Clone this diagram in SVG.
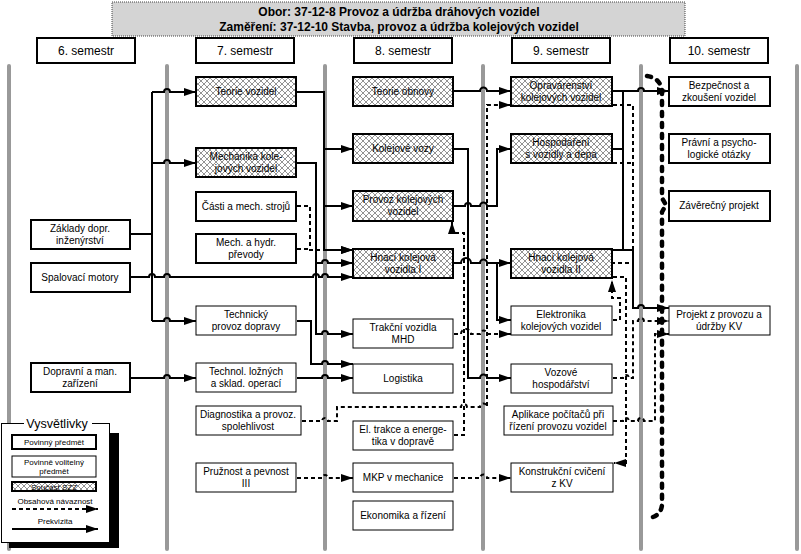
<svg xmlns="http://www.w3.org/2000/svg" width="801" height="554" viewBox="0 0 801 554">
<style>
text{font-family:"Liberation Sans",Arial,sans-serif;font-size:10px;text-anchor:middle;fill:#000}
.sem text{font-size:12px}
.hd{font-size:12px;font-weight:bold}
.gl{stroke:#999;stroke-width:4;stroke-linecap:round}
.n rect{fill:#fff;stroke:#000;stroke-width:2}
.v rect{fill:#fff;stroke:#000;stroke-width:1}
.h rect{fill:url(#hatch);stroke:#000;stroke-width:2}
.c{fill:none;stroke:#000;stroke-width:2}
.d{fill:none;stroke:#000;stroke-width:2;stroke-dasharray:4 3}
.a{marker-end:url(#arr)}
.b{fill:none;stroke:#000;stroke-width:4.5;stroke-dasharray:4 7;stroke-linecap:round}
</style>
<defs>
<pattern id="hatch" width="6" height="6" patternUnits="userSpaceOnUse">
<rect width="6" height="6" fill="#fff"/>
<path d="M0,0 L6,6 M6,0 L0,6" stroke="#777" stroke-width="0.8"/>
</pattern>
<marker id="arr" markerWidth="12" markerHeight="8" refX="12" refY="4" orient="auto" markerUnits="userSpaceOnUse">
<path d="M0,0 L12,4 L0,8 z" fill="#000"/>
</marker>
</defs>

<g id="header">
<rect x="112" y="2" width="573" height="34" fill="#d4d4d4" stroke="#444" stroke-width="1" stroke-dasharray="1 1"/>
<text class="hd" x="399" y="16">Obor:  37-12-8 Provoz a údržba dráhových vozidel</text>
<text class="hd" x="399" y="31">Zaměření: 37-12-10 Stavba, provoz a údržba kolejových vozidel</text>
</g>

<g id="semesters" class="n sem">
<rect x="37" y="38" width="98" height="25"/><text x="86" y="55">6. semestr</text>
<rect x="196" y="38" width="98" height="25"/><text x="245" y="55">7. semestr</text>
<rect x="354" y="38" width="98" height="25"/><text x="403" y="55">8. semestr</text>
<rect x="512" y="38" width="98" height="25"/><text x="561" y="55">9. semestr</text>
<rect x="670" y="38" width="98" height="25"/><text x="719" y="55">10. semestr</text>
</g>

<g id="gridlines">
<line class="gl" x1="9" y1="66" x2="9" y2="549"/>
<line class="gl" x1="167" y1="66" x2="167" y2="549"/>
<line class="gl" x1="325" y1="66" x2="325" y2="549"/>
<line class="gl" x1="483" y1="66" x2="483" y2="549"/>
<line class="gl" x1="641" y1="66" x2="641" y2="549"/>
<line class="gl" x1="797" y1="66" x2="797" y2="549"/>
</g>

<g id="connectors">
<path class="c" d="M131,234 H152 M152,92 V321"/>
<path class="c a" d="M152,92 H164 a3,3 0 0 1 6,0 H196"/>
<path class="c a" d="M152,163 H164 a3,3 0 0 1 6,0 H196"/>
<path class="c a" d="M152,321 H164 a3,3 0 0 1 6,0 H196"/>
<path class="c a" d="M131,277 H149 a3,3 0 0 1 6,0 H164 a3,3 0 0 1 6,0 H313 a3,3 0 0 1 6,0 H322 a3,3 0 0 1 6,0 H353"/>
<path class="c a" d="M131,378 H164 a3,3 0 0 1 6,0 H196"/>
<path class="c" d="M297,92 H324 V250"/>
<path class="c a" d="M324,149 H353"/>
<path class="c a" d="M324,206 H353"/>
<path class="c a" d="M297,163 H316 V334 H322 a3,3 0 0 1 6,0 H353"/>
<path class="c a" d="M316,263 H322 a3,3 0 0 1 6,0 H353"/>
<path class="c a" d="M297,321 H311 V364 H322 a3,3 0 0 1 6,0 H353"/>
<path class="c a" d="M297,378 H322 a3,3 0 0 1 6,0 H353"/>
<path class="c a" d="M454,91 H480 a3.5,3.5 0 0 1 7,0 H511"/>
<path class="c a" d="M454,149 H468 V378 H480 a3.5,3.5 0 0 1 7,0 H511"/>
<path class="c a" d="M454,206 H465 a3,3 0 0 1 6,0 H480 a3.5,3.5 0 0 1 7,0 H497 V149 H511"/>
<path class="c a" d="M454,263 H461 a5,5 0 0 1 10,0 H480 a3.5,3.5 0 0 1 7,0 H511"/>
<path class="c a" d="M497,263 V320 H511"/>
<path class="c a" d="M613,91 H638 a3,3 0 0 1 6,0 H669"/>
<path class="c a" d="M623,91 V250 H633 V308 H638 a3,3 0 0 1 6,0 H669"/>
<path class="c" d="M613,149 H623 M612,250 H623"/>
<path class="d a" d="M297,206 H310 V250 H353"/>
<path class="d" d="M297,249 H310"/>
<path class="c a" d="M324,250 H353"/>
<path class="d a" d="M302,421 H322 a3,3 0 0 1 6,0 H337 V407 H461 a3,3 0 0 1 6,0 H480 a3.5,3.5 0 0 1 7,0 V105 H511"/>
<path class="d a" d="M454,435 H464 V233 H452 V222"/>
<path class="d a" d="M454,334 H461 a5,5 0 0 1 10,0 H480 a3.5,3.5 0 0 1 7,0 H511"/>
<path class="d a" d="M297,478 H322 a3,3 0 0 1 6,0 H353"/>
<path class="d a" d="M454,478 H480 a3.5,3.5 0 0 1 7,0 H511"/>
<path class="d" d="M613,105 H633 V263 H613 M613,163 H633"/>
<path class="d a" d="M613,277 H626 V463 H614"/>
<path class="d a" d="M613,320 H620 V298 H612 V280"/>
<path class="d a" d="M613,378 H623 a3,3 0 0 1 6,0 H633 V321 H638 a3,3 0 0 1 6,0 H669"/>
<path class="d a" d="M613,421 H623 a3,3 0 0 1 6,0 H638 a3,3 0 0 1 6,0 H655 V334 H669"/>
<path class="b" d="M647,76 Q660,78 662,90 V198 L666,205 L662,212 V505 Q661,514 653,517"/>
</g>

<g id="n-zaklady" class="n"><rect x="31" y="220" width="99" height="29"/><text x="80" y="232">Základy dopr.</text><text x="80" y="244">inženýrství</text></g>
<g id="n-spalovaci" class="n"><rect x="31" y="263" width="99" height="29"/><text x="80" y="281">Spalovací motory</text></g>
<g id="n-dopravni" class="n"><rect x="31" y="363" width="99" height="29"/><text x="80" y="375">Dopravní a man.</text><text x="80" y="387">zařízení</text></g>

<g id="n-teorie-vozidel" class="h"><rect x="196" y="77" width="100" height="29"/><text x="246" y="95">Teorie vozidel</text></g>
<g id="n-mechanika" class="h"><rect x="196" y="148" width="100" height="29"/><text x="246" y="160">Mechanika kole-</text><text x="246" y="172">jových vozidel</text></g>
<g id="n-casti" class="n"><rect x="196" y="192" width="100" height="29"/><text x="246" y="210">Části a mech. strojů</text></g>
<g id="n-mech-hydr" class="n"><rect x="196" y="234" width="100" height="29"/><text x="246" y="246">Mech. a hydr.</text><text x="246" y="258">převody</text></g>
<g id="n-technicky" class="v"><rect x="196" y="306" width="100" height="29"/><text x="246" y="318">Technický</text><text x="246" y="330">provoz dopravy</text></g>
<g id="n-technol" class="v"><rect x="196" y="363" width="100" height="29"/><text x="246" y="375">Technol. ložných</text><text x="246" y="387">a sklad. operací</text></g>
<g id="n-diagnostika" class="v"><rect x="196" y="406" width="105" height="29"/><text x="248" y="418">Diagnostika a provoz.</text><text x="248" y="430">spolehlivost</text></g>
<g id="n-pruznost" class="v"><rect x="196" y="463" width="100" height="29"/><text x="246" y="475">Pružnost a pevnost</text><text x="246" y="487">III</text></g>

<g id="n-teorie-obnovy" class="h"><rect x="353" y="77" width="100" height="29"/><text x="403" y="95">Teorie obnovy</text></g>
<g id="n-kolejove-vozy" class="h"><rect x="353" y="134" width="100" height="29"/><text x="403" y="152">Kolejové vozy</text></g>
<g id="n-provoz" class="h"><rect x="353" y="191" width="100" height="30"/><text x="403" y="203">Provoz kolejových</text><text x="403" y="215">vozidel</text></g>
<g id="n-hnaci1" class="h"><rect x="353" y="249" width="100" height="29"/><text x="403" y="261">Hnací kolejová</text><text x="403" y="273">vozidla I</text></g>
<g id="n-trakcni" class="v"><rect x="353" y="319" width="100" height="29"/><text x="403" y="331">Trakční vozidla</text><text x="403" y="343">MHD</text></g>
<g id="n-logistika" class="v"><rect x="353" y="364" width="100" height="29"/><text x="403" y="382">Logistika</text></g>
<g id="n-el-trakce" class="v"><rect x="353" y="421" width="100" height="29"/><text x="403" y="433">El. trakce a energe-</text><text x="403" y="445">tika v dopravě</text></g>
<g id="n-mkp" class="v"><rect x="353" y="463" width="100" height="29"/><text x="403" y="481">MKP v mechanice</text></g>
<g id="n-ekonomika" class="v"><rect x="353" y="501" width="100" height="29"/><text x="403" y="519">Ekonomika a řízení</text></g>

<g id="n-opravarenstvi" class="h"><rect x="511" y="77" width="101" height="29"/><text x="561" y="89">Opravárenství</text><text x="561" y="101">kolejových vozidel</text></g>
<g id="n-hospodareni" class="h"><rect x="511" y="134" width="101" height="29"/><text x="561" y="146">Hospodaření</text><text x="561" y="158">s vozidly a depa</text></g>
<g id="n-hnaci2" class="h"><rect x="511" y="249" width="101" height="29"/><text x="561" y="261">Hnací kolejová</text><text x="561" y="273">vozidla II</text></g>
<g id="n-elektronika" class="v"><rect x="511" y="306" width="101" height="29"/><text x="561" y="318">Elektronika</text><text x="561" y="330">kolejových vozidel</text></g>
<g id="n-vozove" class="v"><rect x="511" y="364" width="101" height="29"/><text x="561" y="376">Vozové</text><text x="561" y="388">hospodářství</text></g>
<g id="n-aplikace" class="v"><rect x="504" y="406" width="109" height="29"/><text x="558" y="418">Aplikace počítačů při</text><text x="558" y="430">řízení provozu vozidel</text></g>
<g id="n-konstrukcni" class="v"><rect x="511" y="463" width="102" height="29"/><text x="562" y="475">Konstrukční cvičení</text><text x="562" y="487">z KV</text></g>

<g id="n-bezpecnost" class="n"><rect x="669" y="77" width="101" height="29"/><text x="719" y="89">Bezpečnost a</text><text x="719" y="101">zkoušení vozidel</text></g>
<g id="n-pravni" class="n"><rect x="669" y="134" width="101" height="29"/><text x="719" y="146">Právní a psycho-</text><text x="719" y="158">logické otázky</text></g>
<g id="n-zaverecny" class="n"><rect x="669" y="191" width="101" height="30"/><text x="719" y="209">Závěrečný projekt</text></g>
<g id="n-projekt" class="v"><rect x="669" y="306" width="101" height="29"/><text x="719" y="318">Projekt z provozu a</text><text x="719" y="330">údržby KV</text></g>

<g id="legend">
<rect x="9" y="433" width="110" height="115" fill="#000"/>
<rect x="1.5" y="423.5" width="108" height="119" fill="#fff" stroke="#000" stroke-width="1"/>
<rect x="24" y="418" width="68" height="12" fill="#fff"/>
<text x="57" y="428" style="font-size:12.5px">Vysvětlivky</text>
<rect x="12" y="435" width="84" height="14" fill="#fff" stroke="#000" stroke-width="2"/>
<text x="54" y="445" style="font-size:8px">Povinný předmět</text>
<rect x="12" y="456" width="84" height="21" fill="#fff" stroke="#000" stroke-width="1"/>
<text x="54" y="465" style="font-size:8px">Povinně volitelný</text>
<text x="54" y="474" style="font-size:8px">předmět</text>
<rect x="12" y="482" width="84" height="9" fill="url(#hatch)" stroke="#000" stroke-width="2"/>
<text x="54" y="489.5" style="font-size:8px">Součást SZZ</text>
<text x="55" y="504" style="font-size:8px">Obsahová návaznost</text>
<path class="d a" d="M12,509 H98"/>
<text x="55" y="524" style="font-size:8px">Prekvizita</text>
<path class="c a" d="M12,529 H98"/>
</g>
</svg>
